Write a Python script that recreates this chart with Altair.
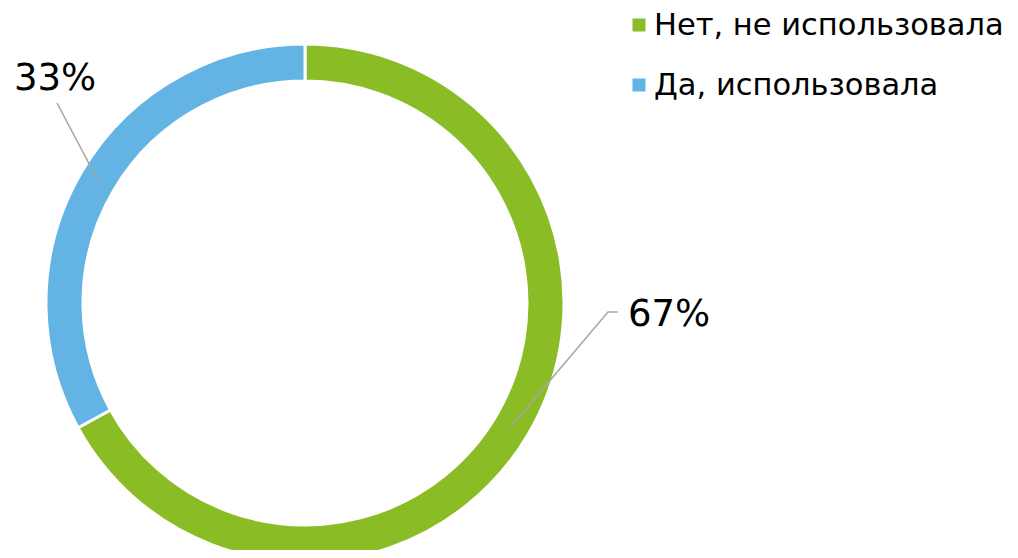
import math
import altair as alt
import pandas as pd

categories = ["Нет, не использовала", "Да, использовала"]
values = [67, 33]
labels = ["67%", "33%"]
colors = ["#8ABC26", "#63B4E4"]

# layout constants (chart coordinates, origin = page (8,8))
CX, CY = 297, 295
R_OUT, R_IN = 259, 222
R_MID = (R_OUT + R_IN) / 2
FONT = "DejaVu Sans"

total = sum(values)
rows = []
cum = 0
for i, (c, v, l) in enumerate(zip(categories, values, labels)):
    mid = (cum + v / 2) / total * 2 * math.pi
    cum += v
    rows.append({"category": c, "value": v, "label": l, "order": i,
                 "mx": CX + R_MID * math.sin(mid), "my": CY - R_MID * math.cos(mid)})
df = pd.DataFrame(rows)

color = alt.Color("category:N", scale=alt.Scale(domain=categories, range=colors), legend=None)

arc = alt.Chart(df).mark_arc(outerRadius=R_OUT, innerRadius=R_IN, stroke="white", strokeWidth=3).encode(
    theta=alt.Theta("value:Q", stack=True),
    order=alt.Order("order:Q"),
    color=color,
    x=alt.value(CX), y=alt.value(CY),
)

# leader lines: start at slice mid-angle, go to label anchor
label_pos = {"67%": [(600, 304), (610, 304)], "33%": [(49, 95)]}
text_pos = {"67%": (620, 318), "33%": (6, 82)}
lrows = []
for r in rows:
    pts = [(r["mx"], r["my"])] + label_pos[r["label"]]
    for k, (x, y) in enumerate(pts):
        lrows.append({"label": r["label"], "seq": k, "x": x, "y": y})
ldf = pd.DataFrame(lrows)

leaders = alt.Chart(ldf).mark_line(color="#A6A6A6", strokeWidth=1.5).encode(
    x=alt.X("x:Q", scale=None), y=alt.Y("y:Q", scale=None),
    detail="label:N", order="seq:Q",
)

tdf = pd.DataFrame([{"label": r["label"], "tx": text_pos[r["label"]][0], "ty": text_pos[r["label"]][1]} for r in rows])
texts = alt.Chart(tdf).mark_text(font=FONT, fontSize=37, align="left", baseline="alphabetic", color="black").encode(
    x=alt.X("tx:Q", scale=None), y=alt.Y("ty:Q", scale=None), text="label:N",
)

# legend
legdf = pd.DataFrame({"category": categories, "rank": list(range(len(categories)))})
leg_sq = alt.Chart(legdf).mark_square(size=169, opacity=1).transform_calculate(
    lx="631", ly="17 + 60*datum.rank"
).encode(x=alt.X("lx:Q", scale=None), y=alt.Y("ly:Q", scale=None), color=color)
leg_txt = alt.Chart(legdf).mark_text(font=FONT, fontSize=30.5, align="left", baseline="alphabetic", color="black").transform_calculate(
    lx="646", ly="27 + 60*datum.rank"
).encode(x=alt.X("lx:Q", scale=None), y=alt.Y("ly:Q", scale=None), text="category:N")

chart = alt.layer(arc, leaders, texts, leg_sq, leg_txt).properties(
    width=1002, height=542, autosize=alt.AutoSizeParams(type="none"), padding=0
).configure_view(stroke=None)

chart.save("out.html", embed_options={"renderer": "svg", "actions": False})
